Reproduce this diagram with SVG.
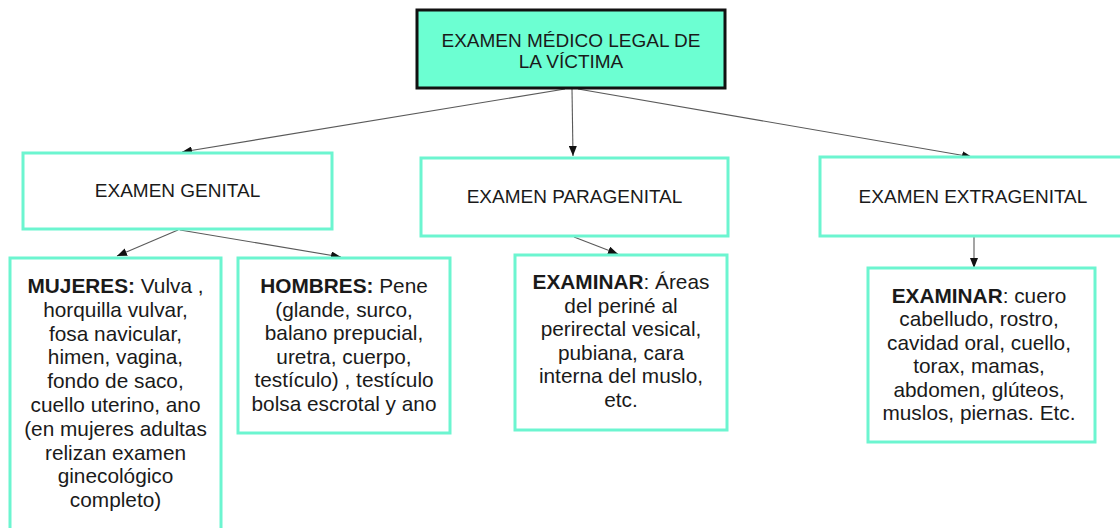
<svg xmlns="http://www.w3.org/2000/svg" width="1120" height="528" viewBox="0 0 1120 528">
<defs>
<style>
.box{fill:#ffffff;stroke:#6cf5d0;stroke-width:3}
.main{fill:#6cffd2;stroke:#111111;stroke-width:3}
.hd{font-family:"Liberation Sans",Arial,sans-serif;font-size:19px;fill:#1a1a1a;text-anchor:middle}
.bd{font-family:"Liberation Sans",Arial,sans-serif;font-size:20.8px;fill:#1a1a1a;text-anchor:middle}
.b{font-weight:bold}
.con{stroke:#5a5a5a;stroke-width:1.1;fill:none;marker-end:url(#arr)}
</style>
<marker id="arr" markerUnits="userSpaceOnUse" markerWidth="10" markerHeight="8" refX="10" refY="4" orient="auto">
<path d="M0,0 L10,4 L0,8 z" fill="#111111"/>
</marker>
</defs>
<rect width="1120" height="528" fill="#ffffff"/>

<g id="connectors">
<line class="con" x1="565" y1="89" x2="182" y2="152"/>
<line class="con" x1="572" y1="89" x2="573" y2="156"/>
<line class="con" x1="578" y1="89" x2="972" y2="157"/>
<line class="con" x1="178" y1="230" x2="117" y2="256"/>
<line class="con" x1="180" y1="230" x2="341" y2="257"/>
<line class="con" x1="574" y1="237" x2="618" y2="254"/>
<line class="con" x1="974" y1="237" x2="974" y2="268"/>
</g>

<g id="n-root">
<rect class="main" x="417" y="10" width="308" height="78"/>
<text class="hd" x="571" y="47">EXAMEN MÉDICO LEGAL DE</text>
<text class="hd" x="571" y="68">LA VÍCTIMA</text>
</g>

<g id="n-genital">
<rect class="box" x="23" y="153" width="309" height="76"/>
<text class="hd" x="177.5" y="197">EXAMEN GENITAL</text>
</g>

<g id="n-paragenital">
<rect class="box" x="421" y="158" width="307" height="78"/>
<text class="hd" x="574.5" y="203">EXAMEN PARAGENITAL</text>
</g>

<g id="n-extragenital">
<rect class="box" x="820" y="157" width="308" height="79"/>
<text class="hd" x="973" y="203">EXAMEN EXTRAGENITAL</text>
</g>

<g id="n-mujeres">
<rect class="box" x="10" y="258" width="211" height="290"/>
<text class="bd" x="115.5" y="293"><tspan class="b">MUJERES:</tspan> Vulva ,</text>
<text class="bd" x="115.5" y="316.8">horquilla vulvar,</text>
<text class="bd" x="115.5" y="340.6">fosa navicular,</text>
<text class="bd" x="115.5" y="364.4">himen, vagina,</text>
<text class="bd" x="115.5" y="388.2">fondo de saco,</text>
<text class="bd" x="115.5" y="412">cuello uterino, ano</text>
<text class="bd" x="115.5" y="435.8">(en mujeres adultas</text>
<text class="bd" x="115.5" y="459.6">relizan examen</text>
<text class="bd" x="115.5" y="483.4">ginecológico</text>
<text class="bd" x="115.5" y="507.2">completo)</text>
</g>

<g id="n-hombres">
<rect class="box" x="238" y="258" width="212" height="175"/>
<text class="bd" x="344" y="293"><tspan class="b">HOMBRES:</tspan> Pene</text>
<text class="bd" x="344" y="316.6">(glande, surco,</text>
<text class="bd" x="344" y="340.2">balano prepucial,</text>
<text class="bd" x="344" y="363.8">uretra, cuerpo,</text>
<text class="bd" x="344" y="387.4">testículo) , testículo</text>
<text class="bd" x="344" y="411">bolsa escrotal y ano</text>
</g>

<g id="n-para-examinar">
<rect class="box" x="515" y="255" width="212" height="175"/>
<text class="bd" x="621" y="289"><tspan class="b">EXAMINAR</tspan>: Áreas</text>
<text class="bd" x="621" y="312.6">del periné al</text>
<text class="bd" x="621" y="336.2">perirectal vesical,</text>
<text class="bd" x="621" y="359.8">pubiana, cara</text>
<text class="bd" x="621" y="383.4">interna del muslo,</text>
<text class="bd" x="621" y="407">etc.</text>
</g>

<g id="n-extra-examinar">
<rect class="box" x="868" y="268" width="227" height="174"/>
<text class="bd" x="979" y="303"><tspan class="b">EXAMINAR</tspan>: cuero</text>
<text class="bd" x="979" y="326.4">cabelludo, rostro,</text>
<text class="bd" x="979" y="349.8">cavidad oral, cuello,</text>
<text class="bd" x="979" y="373.2">torax, mamas,</text>
<text class="bd" x="979" y="396.6">abdomen, glúteos,</text>
<text class="bd" x="979" y="420">muslos, piernas. Etc.</text>
</g>
</svg>
